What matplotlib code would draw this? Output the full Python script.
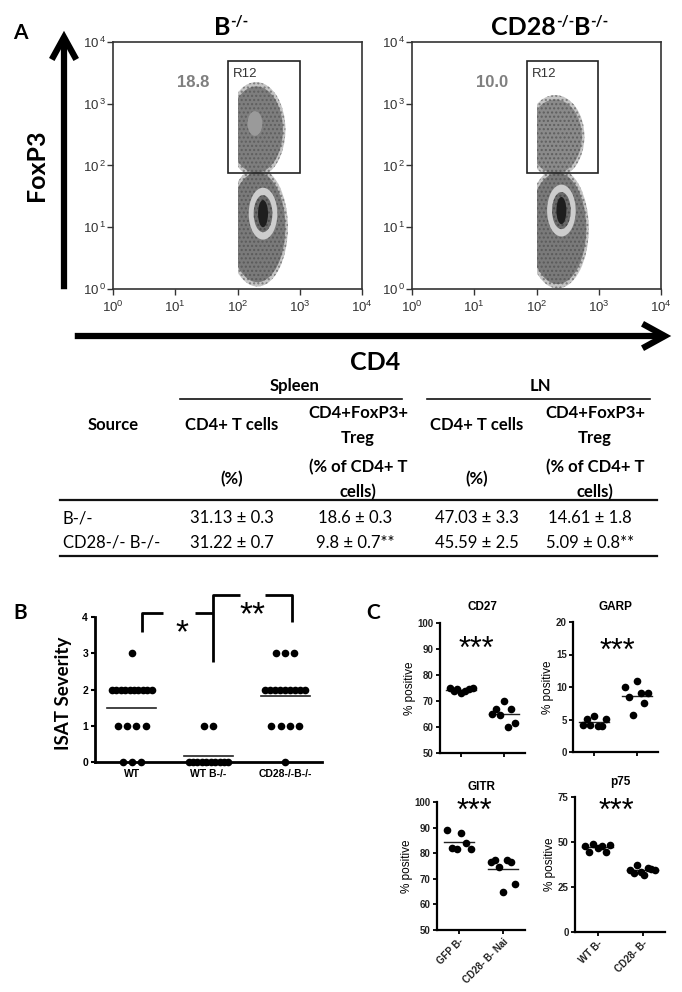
import matplotlib
matplotlib.use("Agg")
import matplotlib.pyplot as plt
import numpy as np
from matplotlib.patches import Ellipse, Rectangle, FancyArrowPatch
from matplotlib.lines import Line2D

plt.rcParams['font.family'] = ['Liberation Sans', 'DejaVu Sans']
plt.rcParams['mathtext.fontset'] = 'custom'
plt.rcParams['mathtext.rm'] = 'Liberation Sans'
plt.rcParams['hatch.linewidth'] = 1.0

# ---------------- data ----------------
# panel A: flow dot plots (log10 units)
flow_titles = [[('B', False), ('-/-', True)],
               [('CD28', False), ('-/-', True), ('B', False), ('-/-', True)]]
gate_pct = ['18.8', '10.0']
gate_x = [(1.85, 3.00), (1.85, 2.99)]
gate_y = [(1.88, 3.69), (1.88, 3.69)]
conv_center = [(2.32, 1.00), (2.34, 0.98)]
conv_spread = [(0.45, 0.89), (0.46, 0.90)]
conv_peak = [(2.41, 1.22), (2.40, 1.27)]
treg_center = [(2.30, 2.58), (2.30, 2.47)]
treg_spread = [(0.43, 0.70), (0.43, 0.60)]

# panel A table
tbl_rows = ['B-/-', 'CD28-/- B-/-']
spleen_cd4 = ['31.13 ± 0.3', '31.22 ± 0.7']
spleen_treg = ['18.6 ± 0.3', '9.8 ± 0.7**']
ln_cd4 = ['47.03 ± 3.3', '45.59 ± 2.5']
ln_treg = ['14.61 ± 1.8', '5.09 ± 0.8**']

# panel B: ISAT severity scores
isat_groups = ['WT', 'WT B-/-', 'CD28-/-B-/-']
isat_wt = [3, 2, 2, 2, 2, 2, 2, 2, 2, 2, 2, 1, 1, 1, 1, 0, 0, 0]
isat_wtb = [1, 1, 0, 0, 0, 0, 0, 0, 0, 0, 0, 0]
isat_cd28 = [3, 3, 3, 2, 2, 2, 2, 2, 2, 2, 2, 2, 1, 1, 1, 1, 0]

# panel C: % positive
c_titles = ['CD27', 'GARP', 'GITR', 'p75']
cd27_a = [75, 74, 74.5, 73, 74, 74.5, 75]
cd27_b = [65, 67, 64.5, 70, 60, 67, 61.5]
garp_a = [4.1, 5.1, 4.1, 5.6, 4.0, 4.0, 5.1]
garp_b = [10.0, 8.4, 5.7, 11.0, 9.1, 7.5, 9.1]
gitr_a = [89, 82, 81.5, 88, 84, 81.5]
gitr_b = [76.5, 77.5, 74.5, 65, 77.5, 76.5, 68]
p75_a = [48, 44.5, 49, 46.5, 48, 44.5, 48.5]
p75_b = [34.5, 33, 37, 33.5, 31.5, 35.5, 35, 34.5]
gitr_labels = ['GFP B-', 'CD28- B- Nai']
p75_labels = ['WT B-', 'CD28- B-']

# ---------------- helpers ----------------
W, H = 682, 992
fig = plt.figure(figsize=(W / 100, H / 100), dpi=100)
renderer = fig.canvas.get_renderer()


def fx(x):
    return x / W


def fy(y):
    return 1 - y / H


def box(x0, y0, x1, y1):
    return [x0 / W, 1 - y1 / H, (x1 - x0) / W, (y1 - y0) / H]


def ftext(x, y, s, **kw):
    kw.setdefault('ha', 'center')
    kw.setdefault('va', 'center')
    return fig.text(fx(x), fy(y), s, **kw)


def hline(x0, x1, y, lw):
    fig.add_artist(Line2D([fx(x0), fx(x1)], [fy(y), fy(y)], color='#111111',
                          lw=lw, transform=fig.transFigure))


def arrow(p0, p1):
    fig.add_artist(FancyArrowPatch((fx(p0[0]), fy(p0[1])), (fx(p1[0]), fy(p1[1])),
                                   transform=fig.transFigure,
                                   arrowstyle='->,head_length=1.0,head_width=0.55',
                                   mutation_scale=16, lw=4.5, color='black',
                                   joinstyle='miter', capstyle='butt'))


def sup_title(xc, base_y, parts, size=18):
    # lay the pieces out side by side, superscripts smaller and raised
    pieces = []
    for s, sup in parts:
        t = ftext(0, base_y - (9 if sup else 0), s, family='Lato',
                  fontweight='bold', fontsize=size * 0.6 if sup else size,
                  ha='left', va='baseline')
        pieces.append(t)
    widths = [t.get_window_extent(renderer).width for t in pieces]
    x = xc - sum(widths) / 2
    for t, w in zip(pieces, widths):
        t.set_x(fx(x))
        x += w


# ---------------- panel A: dot plots ----------------
ftext(20, 33, 'A', family='Lato', fontweight='bold', fontsize=15)
arrow((64, 292), (64, 28))
arrow((72, 336), (674, 336))
ftext(37, 165, 'FoxP3', family='Lato', fontweight='bold', fontsize=18, rotation=90)
ftext(375, 362, 'CD4', family='Lato', fontweight='bold', fontsize=18)

flow_boxes = [box(113, 42, 362, 289), box(412, 42, 661, 289)]
title_x = [231, 550]
for i, rect in enumerate(flow_boxes):
    ax = fig.add_axes(rect)
    ax.set_xlim(0, 4)
    ax.set_ylim(0, 4)
    clip = Rectangle((2.0, 0), 2.0, 4.0, transform=ax.transData)

    def blob(c, w, h, col, hatch=None, hcol='none'):
        e = Ellipse(c, 2 * w, 2 * h, facecolor=col, edgecolor=hcol, lw=0,
                    hatch=hatch)
        ax.add_patch(e)
        e.set_clip_path(clip)

    cx, cy = conv_center[i]
    sx, sy = conv_spread[i]
    tx, ty = treg_center[i]
    tsx, tsy = treg_spread[i]
    px_, py_ = conv_peak[i]
    blob((tx, ty), tsx + 0.04, tsy + 0.07, '#c4c4c4', '....', '#7a7a7a')
    blob((cx, cy), sx + 0.04, sy + 0.07, '#c4c4c4', '....', '#7a7a7a')
    treg_col = '#7e7e7e' if i == 0 else '#8a8a8a'
    blob((tx, ty), tsx, tsy, treg_col, '....', '#5e5e5e')
    blob((cx, cy), sx, sy, '#7a7a7a', '....', '#5a5a5a')
    if i == 0:
        blob((2.28, 2.68), 0.12, 0.2, '#9a9a9a')
    blob((px_, py_), 0.23, 0.42, '#cdcdcd')
    blob((px_, py_), 0.15, 0.30, '#6a6a6a', '....', '#4a4a4a')
    blob((px_, py_), 0.08, 0.22, '#1e1e1e')

    g0, g1 = gate_x[i]
    h0, h1 = gate_y[i]
    ax.add_patch(Rectangle((g0, h0), g1 - g0, h1 - h0, fill=False,
                           edgecolor='#222222', lw=1.2))
    ax.text(g0 + 0.07, h1 - 0.21, 'R12', fontsize=9.5, color='#333333',
            ha='left', va='center')
    ax.text(1.29, 3.35, gate_pct[i], fontsize=12, fontweight='bold',
            color='#7f7f7f', ha='center', va='center')

    ax.set_xticks(range(5))
    ax.set_yticks(range(5))
    ax.set_xticklabels([r'$\mathregular{10^{%d}}$' % k for k in range(5)])
    ax.set_yticklabels([r'$\mathregular{10^{\,%d}}$' % k for k in range(5)])
    ax.tick_params(axis='both', labelsize=9.5, labelcolor='#333333',
                   color='#333333', length=4, width=1)
    ax.tick_params(axis='x', pad=4)
    ax.tick_params(axis='y', pad=1)
    for sp in ax.spines.values():
        sp.set_color('#333333')
        sp.set_linewidth(1.2)
    sup_title(title_x[i], 35, flow_titles[i])

# ---------------- panel A: table ----------------
tfont = dict(family='Lato', fontsize=12)
bfont = dict(family='Lato', fontsize=12, fontweight='bold')
col_x = [232, 358, 477, 595]
ftext(295, 386, 'Spleen', **bfont)
ftext(540, 386, 'LN', **bfont)
hline(180, 402, 399, 1.2)
hline(427, 650, 399, 1.2)
ftext(113, 425, 'Source', **bfont)
for c in (0, 2):
    ftext(col_x[c], 425, 'CD4+ T cells', **bfont)
    ftext(col_x[c], 479, '(%)', **bfont)
for c in (1, 3):
    for y, s in zip([413, 438, 467, 492],
                    ['CD4+FoxP3+', 'Treg', '(% of CD4+ T', 'cells)']):
        ftext(col_x[c], y, s, **bfont)
hline(60, 657, 500, 1.6)
value_x = [232, 355, 477, 590]
for r, y in enumerate([518, 543]):
    ftext(63, y, tbl_rows[r], ha='left', **tfont)
    for c, col in enumerate([spleen_cd4, spleen_treg, ln_cd4, ln_treg]):
        ftext(value_x[c], y, col[r], **tfont)
hline(60, 657, 556, 1.6)

# ---------------- panel B ----------------
ftext(20, 613, 'B', family='Lato', fontweight='bold', fontsize=15)
ftext(63, 693, 'ISAT Severity', family='Lato', fontweight='bold',
      fontsize=13.5, rotation=90)
axb = fig.add_axes(box(95, 617, 322, 762))
for g, scores in enumerate([isat_wt, isat_wtb, isat_cd28]):
    scores = np.array(scores)
    for lvl in np.unique(scores)[::-1]:
        n = int((scores == lvl).sum())
        step = 0.12 if n < 2 else min(0.12, 0.52 / (n - 1))
        offs = (np.arange(n) - (n - 1) / 2) * step
        axb.plot(g + offs, [lvl] * n, 'o', color='black', ms=5.5,
                 mec='none', clip_on=False, zorder=3)
    m = scores.mean()
    axb.plot([g - 0.32, g + 0.32], [m, m], color='#222222', lw=1.2)
axb.set_xlim(-0.48, 2.48)
axb.set_ylim(0, 4)
axb.set_yticks(range(5))
axb.set_xticks(range(3))
axb.set_xticklabels(isat_groups)
axb.tick_params(axis='both', labelsize=7.5, width=1.5, length=3, pad=2)
for lab in axb.get_xticklabels() + axb.get_yticklabels():
    lab.set_fontweight('bold')
for sp in ['top', 'right']:
    axb.spines[sp].set_visible(False)
for sp in ['left', 'bottom']:
    axb.spines[sp].set_linewidth(2)
bk = dict(color='black', lw=2, clip_on=False, solid_capstyle='butt')
axb.plot([0.13, 0.13, 0.41], [3.59, 4.12, 4.12], **bk)
axb.plot([0.82, 1.06], [4.12, 4.12], **bk)
axb.plot([1.06, 1.06, 1.41], [2.76, 4.61, 4.61], **bk)
axb.plot([1.74, 2.09, 2.09], [4.61, 4.61, 3.87], **bk)
axb.annotate('*', xy=(0.65, 3.84), xytext=(0, -14), textcoords='offset points',
             ha='center', va='baseline', fontsize=24, annotation_clip=False)
axb.annotate('**', xy=(1.58, 4.34), xytext=(0, -14), textcoords='offset points',
             ha='center', va='baseline', fontsize=24, annotation_clip=False)

# ---------------- panel C ----------------
ftext(373, 613, 'C', family='Lato', fontweight='bold', fontsize=15)
c_data = [(cd27_a, cd27_b), (garp_a, garp_b), (gitr_a, gitr_b), (p75_a, p75_b)]
c_boxes = [box(440, 623, 525, 753), box(573, 622, 658, 752),
           box(437, 802, 525, 930), box(575, 797, 665, 932)]
c_ylim = [(50, 100), (0, 20), (50, 100), (0, 75)]
c_yticks = [range(50, 101, 10), range(0, 21, 5), range(50, 101, 10), range(0, 76, 25)]
c_xlabels = [None, None, gitr_labels, p75_labels]
c_star = [(0.35, 93.6), (0.55, 16.9), (0.35, 100), (0.43, 72.2)]
for k in range(4):
    ax = fig.add_axes(c_boxes[k])
    for g, vals in enumerate(c_data[k]):
        n = len(vals)
        offs = np.linspace(-0.27, 0.27, n)
        ax.plot(g + offs, vals, 'o', color='black', ms=5.5, mec='none',
                clip_on=False, zorder=3)
        m = np.mean(vals)
        ax.plot([g - 0.35, g + 0.35], [m, m], color='#222222', lw=1)
    ax.set_xlim(-0.5, 1.5)
    ax.set_ylim(*c_ylim[k])
    ax.set_yticks(list(c_yticks[k]))
    ax.set_xticks([0, 1])
    if c_xlabels[k] is None:
        ax.set_xticklabels([])
    else:
        ax.set_xticklabels(c_xlabels[k], rotation=45, ha='right',
                           rotation_mode='anchor', fontsize=7, fontweight='bold')
    ax.tick_params(axis='both', labelsize=7, width=1.3, length=3, pad=1.5,
                   labelcolor='#222222')
    for lab in ax.get_yticklabels():
        lab.set_fontweight('bold')
    for sp in ['top', 'right']:
        ax.spines[sp].set_visible(False)
    for sp in ['left', 'bottom']:
        ax.spines[sp].set_linewidth(1.6)
    ax.set_title(c_titles[k], fontsize=8.5, fontweight='bold', pad=9)
    ax.set_ylabel('% positive', fontsize=8.5, labelpad=1)
    sx_, sy_ = c_star[k]
    ax.annotate('***', xy=(sx_, sy_), xytext=(0, -13), textcoords='offset points',
                ha='center', va='baseline', fontsize=22, annotation_clip=False)

fig.savefig('out.png', dpi=100)
